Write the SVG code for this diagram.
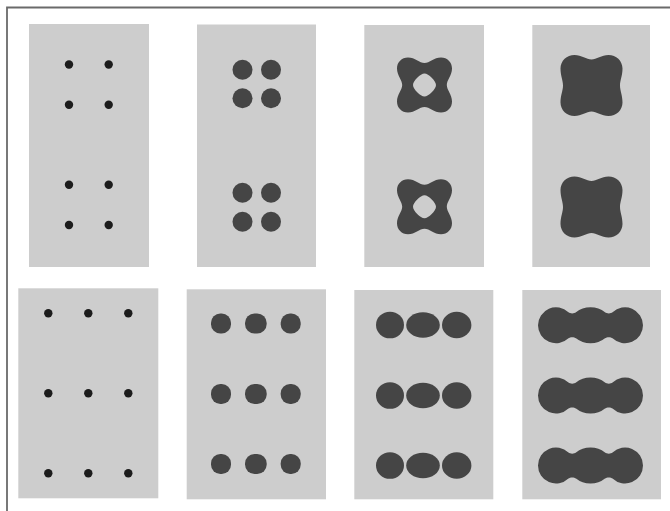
<svg xmlns="http://www.w3.org/2000/svg" width="670" height="511" viewBox="0 0 670 511">
<style>
.bg{fill:#ffffff}
.frame{fill:none;stroke:#6a6a6a;stroke-width:1.8}
.panel{fill:#cdcdcd}
.dot{fill:#1c1c1c}
.blob{fill:#454545}
</style>
<defs>
<path id="quat" fill-rule="evenodd" d="M0,-22 C5,-22 9.5,-27.5 16.5,-27.5 C22.8,-27.5 27.5,-22.8 27.5,-16.5 C27.5,-9.5 22.3,-5 22.3,0 C22.3,5 27.5,9.5 27.5,16.5 C27.5,22.8 22.8,27.5 16.5,27.5 C9.5,27.5 5,22 0,22 C-5,22 -9.5,27.5 -16.5,27.5 C-22.8,27.5 -27.5,22.8 -27.5,16.5 C-27.5,9.5 -22.3,5 -22.3,0 C-22.3,-5 -27.5,-9.5 -27.5,-16.5 C-27.5,-22.8 -22.8,-27.5 -16.5,-27.5 C-9.5,-27.5 -5,-22 0,-22 Z M0,-11.5 C4,-11.5 11.5,-4 11.5,0 C11.5,4 4,11.5 0,11.5 C-4,11.5 -11.5,4 -11.5,0 C-11.5,-4 -4,-11.5 0,-11.5 Z"/>
<path id="sq" d="M0,-26 C5,-26 10,-30.5 17,-30.5 C24.7,-30.5 31,-24.7 31,-17 C31,-10 28.5,-5 28.5,0 C28.5,5 31,10 31,17 C31,24.7 24.7,30.5 17,30.5 C10,30.5 5,26 0,26 C-5,26 -10,30.5 -17,30.5 C-24.7,30.5 -31,24.7 -31,17 C-31,10 -28.5,5 -28.5,0 C-28.5,-5 -31,-10 -31,-17 C-31,-24.7 -24.7,-30.5 -17,-30.5 C-10,-30.5 -5,-26 0,-26 Z"/>
<path id="tri" d="M-52.5,0 A18,18 0 0 1 -22.05,-13 C-20.48,-11.5 -16.24,-11.5 -14.5,-13 A21,18 0 0 1 14.5,-13 C16.24,-11.5 20.48,-11.5 22.05,-13 A18,18 0 0 1 52.5,0 A18,18 0 0 1 22.05,13 C20.48,11.5 16.24,11.5 14.5,13 A21,18 0 0 1 -14.5,13 C-16.24,11.5 -20.48,11.5 -22.05,13 A18,18 0 0 1 -52.5,0 Z"/>
</defs>
<rect class="bg" x="0" y="0" width="670" height="511"/>
<path class="frame" d="M7,511 L7,7.5 L670,7.5"/>

<g id="panel-a1">
<rect class="panel" x="29" y="24" width="120" height="243"/>
<circle class="dot" cx="69" cy="64.5" r="4.2"/>
<circle class="dot" cx="108.7" cy="64.5" r="4.2"/>
<circle class="dot" cx="69" cy="104.7" r="4.2"/>
<circle class="dot" cx="108.7" cy="104.7" r="4.2"/>
<circle class="dot" cx="69" cy="184.7" r="4.2"/>
<circle class="dot" cx="108.7" cy="184.7" r="4.2"/>
<circle class="dot" cx="69" cy="225" r="4.2"/>
<circle class="dot" cx="108.7" cy="225" r="4.2"/>
</g>

<g id="panel-a2">
<rect class="panel" x="197" y="24.5" width="119" height="242.5"/>
<circle class="blob" cx="242.5" cy="69.7" r="10"/>
<circle class="blob" cx="271" cy="69.7" r="10"/>
<circle class="blob" cx="242.5" cy="98.3" r="10"/>
<circle class="blob" cx="271" cy="98.3" r="10"/>
<circle class="blob" cx="242.5" cy="192.8" r="10"/>
<circle class="blob" cx="271" cy="192.8" r="10"/>
<circle class="blob" cx="242.5" cy="221.7" r="10"/>
<circle class="blob" cx="271" cy="221.7" r="10"/>
</g>

<g id="panel-a3">
<rect class="panel" x="364.3" y="25" width="119.7" height="242"/>
<use href="#quat" class="blob" x="424.5" y="85"/>
<use href="#quat" class="blob" x="424.5" y="206.7"/>
</g>

<g id="panel-a4">
<rect class="panel" x="532.3" y="25" width="117.7" height="242"/>
<use href="#sq" class="blob" x="591.5" y="85.5"/>
<use href="#sq" class="blob" x="591.5" y="207"/>
</g>

<g id="panel-b1">
<rect class="panel" x="18.3" y="288.3" width="140" height="210"/>
<circle class="dot" cx="48.3" cy="313.3" r="4.2"/>
<circle class="dot" cx="88.3" cy="313.3" r="4.2"/>
<circle class="dot" cx="128.3" cy="313.3" r="4.2"/>
<circle class="dot" cx="48.3" cy="393.3" r="4.2"/>
<circle class="dot" cx="88.3" cy="393.3" r="4.2"/>
<circle class="dot" cx="128.3" cy="393.3" r="4.2"/>
<circle class="dot" cx="48.3" cy="473.3" r="4.2"/>
<circle class="dot" cx="88.3" cy="473.3" r="4.2"/>
<circle class="dot" cx="128.3" cy="473.3" r="4.2"/>
</g>

<g id="panel-b2">
<rect class="panel" x="186.7" y="289.3" width="139.3" height="210"/>
<rect class="blob" x="211" y="313.5" width="20" height="20" rx="9.3"/>
<rect class="blob" x="245" y="313.5" width="21.7" height="20" rx="9.5"/>
<rect class="blob" x="280.7" y="313.5" width="20" height="20" rx="9.3"/>
<rect class="blob" x="211" y="384" width="20" height="20" rx="9.3"/>
<rect class="blob" x="245" y="384" width="21.7" height="20" rx="9.5"/>
<rect class="blob" x="280.7" y="384" width="20" height="20" rx="9.3"/>
<rect class="blob" x="211" y="454" width="20" height="20" rx="9.3"/>
<rect class="blob" x="245" y="454" width="21.7" height="20" rx="9.5"/>
<rect class="blob" x="280.7" y="454" width="20" height="20" rx="9.3"/>
</g>

<g id="panel-b3">
<rect class="panel" x="354.3" y="290" width="139" height="209.3"/>
<ellipse class="blob" cx="390" cy="325" rx="14" ry="13.3"/>
<ellipse class="blob" cx="423" cy="325" rx="16.8" ry="12.8"/>
<ellipse class="blob" cx="456.7" cy="325" rx="14.7" ry="13.2"/>
<ellipse class="blob" cx="390" cy="395.5" rx="14" ry="13.3"/>
<ellipse class="blob" cx="423" cy="395.5" rx="16.8" ry="12.8"/>
<ellipse class="blob" cx="456.7" cy="395.5" rx="14.7" ry="13.2"/>
<ellipse class="blob" cx="390" cy="465.5" rx="14" ry="13.3"/>
<ellipse class="blob" cx="423" cy="465.5" rx="16.8" ry="12.8"/>
<ellipse class="blob" cx="456.7" cy="465.5" rx="14.7" ry="13.2"/>
</g>

<g id="panel-b4">
<rect class="panel" x="522.3" y="290" width="138.7" height="209.3"/>
<use href="#tri" class="blob" x="590.5" y="325.3"/>
<use href="#tri" class="blob" x="590.5" y="395.5"/>
<use href="#tri" class="blob" x="590.5" y="465.5"/>
</g>
</svg>
